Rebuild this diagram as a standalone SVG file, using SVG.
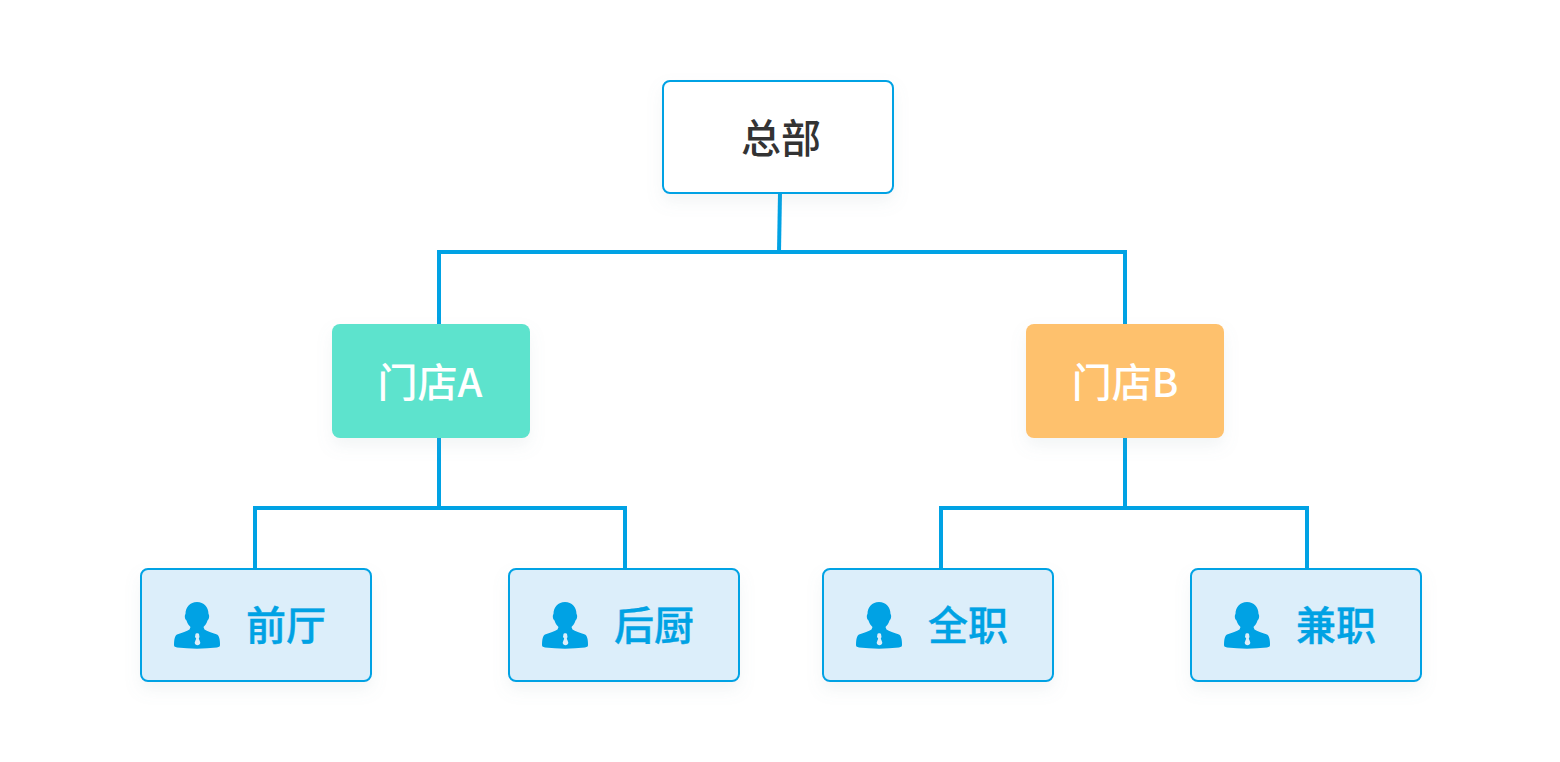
<svg xmlns="http://www.w3.org/2000/svg" xmlns:xlink="http://www.w3.org/1999/xlink" width="1560" height="762" viewBox="0 0 1560 762">
<style>
text{font-family:"Noto Sans CJK SC","Noto Sans",sans-serif;font-size:40px}
.conn{fill:none;stroke:#00a2e4;stroke-width:4}
.leaf rect{fill:#dceefa;stroke:#00a2e4;stroke-width:2}
.leaf text{fill:#00a2e4;font-weight:500;stroke:#00a2e4;stroke-width:.4}
.store text{fill:#fff;font-weight:500}
.ic{fill:#00a2e4}
</style>
<defs>
<filter id="s" x="-20%" y="-20%" width="140%" height="150%"><feDropShadow dx="0" dy="8" stdDeviation="8" flood-color="#8aa0a8" flood-opacity="0.11"/></filter>
<g id="person">
<path class="ic" d="M23 0C16 0 11.500 5 11.500 12C10.500 13 10.500 17 12.500 18.500C13.500 22 15 23.500 16.500 25L15.500 27.500C13 29.500 8 30.500 3 32.500C1 33.500 0 37 0 43C0 44.500 1 45 3 45.500C16 47 30 47 43 45.500C45 45 46 44.500 46 43C46 37 45 33.500 43 32.500C38 30.500 33 29.500 30.500 27.500L29.500 25C31 23.500 32.500 22 33.500 18.500C35.500 17 35.500 13 34.500 12C34.500 5 30 0 23 0Z"/>
<path fill="#dceefa" d="M21.500 32C21.500 31 25 31 25 32L25.500 35L24.800 36.500L26.300 40.500C26.300 44 20.700 44 20.700 40.500L22.200 36.500L21 35Z"/>
</g>
</defs>
<g id="connectors" class="conn">
<path d="M780 193L779 252"/>
<path d="M439 326V252H1125V326"/>
<path d="M439 437V508"/>
<path d="M255 570V508H625V570"/>
<path d="M1125 437V508"/>
<path d="M941 570V508H1307V570"/>
</g>
<g id="hq">
<rect x="663" y="81" width="230" height="112" rx="7" fill="#fff" stroke="#00a2e4" stroke-width="2" filter="url(#s)"/>
<text x="781" y="153" text-anchor="middle" fill="#333" font-weight="500">总部</text>
</g>
<g id="storeA" class="store">
<rect x="332" y="324" width="198" height="114" rx="8" fill="#5de3cd" filter="url(#s)"/>
<text x="430" y="397" text-anchor="middle">门店A</text>
</g>
<g id="storeB" class="store">
<rect x="1026" y="324" width="198" height="114" rx="8" fill="#fec16d" filter="url(#s)"/>
<text x="1125" y="397" text-anchor="middle">门店B</text>
</g>
<g id="front" class="leaf">
<rect x="141" y="569" width="230" height="112" rx="7" filter="url(#s)"/>
<use xlink:href="#person" href="#person" x="174" y="602"/>
<text x="246" y="640">前厅</text>
</g>
<g id="kitchen" class="leaf">
<rect x="509" y="569" width="230" height="112" rx="7" filter="url(#s)"/>
<use xlink:href="#person" href="#person" x="542" y="602"/>
<text x="614" y="640">后厨</text>
</g>
<g id="fulltime" class="leaf">
<rect x="823" y="569" width="230" height="112" rx="7" filter="url(#s)"/>
<use xlink:href="#person" href="#person" x="856" y="602"/>
<text x="928" y="640">全职</text>
</g>
<g id="parttime" class="leaf">
<rect x="1191" y="569" width="230" height="112" rx="7" filter="url(#s)"/>
<use xlink:href="#person" href="#person" x="1224" y="602"/>
<text x="1296" y="640">兼职</text>
</g>
</svg>
